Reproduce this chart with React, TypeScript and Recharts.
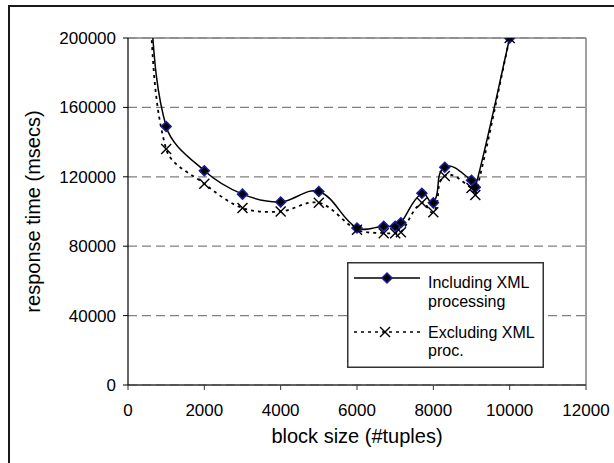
import React from 'react';
import { LineChart, Line, XAxis, YAxis, CartesianGrid, ReferenceLine } from 'recharts';

// Block size (#tuples) for each measurement
const blockSizes = [500, 1000, 2000, 3000, 4000, 5000, 6000, 6700, 7000, 7150, 7700, 8000, 8300, 9000, 9100, 10000];
// Response time in msecs, including XML processing
const includingXml = [240000, 149000, 123500, 110000, 105500, 111500, 90500, 91500, 91500, 93500, 110500, 105000, 125500, 118000, 114000, 200000];
// Response time in msecs, excluding XML processing
const excludingXml = [235000, 136000, 116000, 102000, 100000, 105000, 89500, 87500, 87500, 88000, 105000, 99500, 120500, 113500, 109500, 200000];

const xTicks = [0, 2000, 4000, 6000, 8000, 10000, 12000];
const yTicks = [0, 40000, 80000, 120000, 160000, 200000];
const seriesLabels = [['Including XML', 'processing'], ['Excluding XML', 'proc.']];

const data = blockSizes.map((b, i) => ({ block: b, incl: includingXml[i], excl: excludingXml[i] }));

const FONT = '"Liberation Sans", Arial, sans-serif';
const DOTTED = '3 4';

// Spreadsheet-style smoothed line: cubic Bezier segments whose tangent
// direction follows the neighbouring points and whose handle length is
// a third of the segment length, so short segments do not overshoot.
function smoothCurve(context: any) {
  let pts: number[][] = [];
  const unit = (dx: number, dy: number) => {
    const l = Math.hypot(dx, dy) || 1;
    return [dx / l, dy / l];
  };
  return {
    areaStart() {},
    areaEnd() {},
    lineStart() {
      pts = [];
    },
    point(x: number, y: number) {
      pts.push([+x, +y]);
    },
    lineEnd() {
      const n = pts.length;
      if (n === 0) return;
      context.moveTo(pts[0][0], pts[0][1]);
      if (n === 1) return;
      const tangents = pts.map((p, i) => {
        const a = pts[i - 1] || p;
        const b = pts[i + 1] || p;
        return unit(b[0] - a[0], b[1] - a[1]);
      });
      for (let i = 0; i < n - 1; i++) {
        const p1 = pts[i];
        const p2 = pts[i + 1];
        const h = Math.hypot(p2[0] - p1[0], p2[1] - p1[1]) / 3;
        const t1 = tangents[i];
        const t2 = tangents[i + 1];
        context.bezierCurveTo(
          p1[0] + t1[0] * h,
          p1[1] + t1[1] * h,
          p2[0] - t2[0] * h,
          p2[1] - t2[1] * h,
          p2[0],
          p2[1]
        );
      }
    },
  };
}

const Diamond = (props: any) => {
  const { cx, cy, index } = props;
  if (cx == null || cy == null) return <g key={`d-${index}`} />;
  const r = 5;
  return (
    <polygon
      key={`d-${index}`}
      points={`${cx},${cy - r} ${cx + r},${cy} ${cx},${cy + r} ${cx - r},${cy}`}
      fill="#000000"
      stroke="#1c1ca0"
      strokeWidth={1.5}
    />
  );
};

const Cross = (props: any) => {
  const { cx, cy, index } = props;
  if (cx == null || cy == null) return <g key={`x-${index}`} />;
  const r = 5;
  return (
    <g key={`x-${index}`}>
      <line x1={cx - r} y1={cy - r} x2={cx + r} y2={cy + r} stroke="#000" strokeWidth={1.4} />
      <line x1={cx - r} y1={cy + r} x2={cx + r} y2={cy - r} stroke="#000" strokeWidth={1.4} />
    </g>
  );
};

const LegendBox = () => (
  <svg
    width={197}
    height={106}
    style={{ position: 'absolute', left: 347, top: 262, background: '#fff', fontFamily: FONT }}
  >
    <rect x={0.75} y={0.75} width={195.5} height={104.5} fill="#fff" stroke="#333" strokeWidth={1.5} />
    <line x1={7} y1={16} x2={73} y2={16} stroke="#000" strokeWidth={1.5} />
    <Diamond cx={40} cy={16} index={0} />
    <text x={81} y={26} fontSize={16} fill="#000">{seriesLabels[0][0]}</text>
    <text x={81} y={45} fontSize={16} fill="#000">{seriesLabels[0][1]}</text>
    <line x1={7} y1={70} x2={73} y2={70} stroke="#000" strokeWidth={1.5} strokeDasharray={DOTTED} />
    <Cross cx={38} cy={70} index={0} />
    <text x={81} y={76} fontSize={16} fill="#000">{seriesLabels[1][0]}</text>
    <text x={81} y={94} fontSize={16} fill="#000">{seriesLabels[1][1]}</text>
  </svg>
);

export default function App() {
  return (
    <div style={{ position: 'fixed', left: 0, top: 0, width: 614, height: 463, background: '#fff', overflow: 'hidden', fontFamily: FONT }}>
      <div style={{ position: 'absolute', left: 8, top: 5, width: 640, height: 480, borderLeft: '2px solid #1a1a1a', borderTop: '2px solid #1a1a1a' }} />
      <div style={{ position: 'absolute', left: 0, top: 0 }}>
        <LineChart width={614} height={463} data={data} margin={{ top: 38, right: 28, bottom: 18, left: 0 }}>
          <CartesianGrid vertical={false} stroke="#808080" strokeDasharray="9 5" strokeWidth={1.2} />
          <ReferenceLine y={200000} stroke="#808080" strokeWidth={1.5} />
          <ReferenceLine x={12000} stroke="#808080" strokeWidth={1.5} />
          <XAxis
            type="number"
            dataKey="block"
            domain={[0, 12000]}
            ticks={xTicks}
            height={60}
            tickSize={5}
            tickMargin={14}
            tick={{ fill: '#000', fontSize: 17, fontFamily: FONT }}
            axisLine={{ stroke: '#333', strokeWidth: 1.5 }}
            tickLine={{ stroke: '#333' }}
            label={{ value: 'block size (#tuples)', position: 'insideBottom', offset: 2, fill: '#000', fontSize: 20, fontFamily: FONT }}
          />
          <YAxis
            type="number"
            domain={[0, 200000]}
            allowDataOverflow
            ticks={yTicks}
            width={128}
            tickSize={5}
            tickMargin={7}
            tick={{ fill: '#000', fontSize: 17, fontFamily: FONT }}
            axisLine={{ stroke: '#000', strokeWidth: 1.2 }}
            tickLine={{ stroke: '#000' }}
            label={{ value: 'response time (msecs)', angle: -90, position: 'insideLeft', offset: 33, fill: '#000', fontSize: 20, fontFamily: FONT, style: { textAnchor: 'middle' } }}
          />
          <Line
            type={smoothCurve as any}
            dataKey="incl"
            stroke="#000"
            strokeWidth={1.5}
            dot={<Diamond />}
            activeDot={false}
            isAnimationActive={false}
          />
          <Line
            type={smoothCurve as any}
            dataKey="excl"
            stroke="#000"
            strokeWidth={1.8}
            strokeDasharray={DOTTED}
            dot={<Cross />}
            activeDot={false}
            isAnimationActive={false}
          />
        </LineChart>
      </div>
      <LegendBox />
    </div>
  );
}
